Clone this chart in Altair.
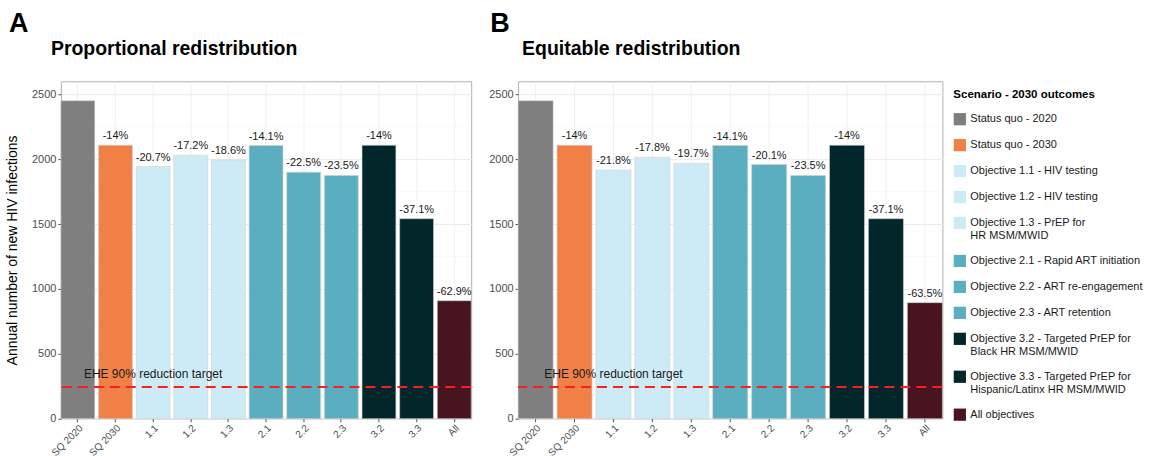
import altair as alt
import pandas as pd

codes = ["SQ 2020", "SQ 2030", "1.1", "1.2", "1.3", "2.1", "2.2", "2.3", "3.2", "3.3", "All"]
scenarios = [
    "Status quo - 2020",
    "Status quo - 2030",
    "Objective 1.1 - HIV testing",
    "Objective 1.2 - HIV testing",
    "Objective 1.3 - PrEP for\n HR MSM/MWID",
    "Objective 2.1 - Rapid ART initiation",
    "Objective 2.2 - ART re-engagement",
    "Objective 2.3 - ART retention",
    "Objective 3.2 - Targeted PrEP for\n Black HR MSM/MWID",
    "Objective 3.3 - Targeted PrEP for\n Hispanic/Latinx HR MSM/MWID",
    "All objectives",
]
colors = ["#7f7f7f", "#f08046", "#cdebf7", "#cdebf7", "#cdebf7", "#5aaebf",
          "#5aaebf", "#5aaebf", "#03262a", "#03262a", "#48141f"]

prop_values = [2450, 2107, 1943, 2029, 1994, 2105, 1899, 1874, 2107, 1541, 909]
prop_labels = ["", "-14%", "-20.7%", "-17.2%", "-18.6%", "-14.1%", "-22.5%",
               "-23.5%", "-14%", "-37.1%", "-62.9%"]
equit_values = [2450, 2107, 1916, 2014, 1967, 2105, 1958, 1874, 2107, 1541, 894]
equit_labels = ["", "-14%", "-21.8%", "-17.8%", "-19.7%", "-14.1%", "-20.1%",
                "-23.5%", "-14%", "-37.1%", "-63.5%"]
target = 245
target_text = "EHE 90% reduction target"
major_ticks = [0, 500, 1000, 1500, 2000, 2500]
minor_grid = [250, 750, 1250, 1750, 2250]

FONT = "Liberation Sans"
HEIGHT = 338


def panel(values, labels, letter, title, show_ytitle, width, letter_dx, title_dx):
    df = pd.DataFrame({"code": codes, "scenario": scenarios, "value": values, "label": labels})
    xenc = alt.X(
        "code:N", sort=codes,
        scale=alt.Scale(paddingInner=0.1, paddingOuter=0),
        axis=alt.Axis(title=None, labelAngle=-45, labelAlign="right", labelBaseline="top",
                      labelFontSize=10, labelColor="#4d4d4d", tickColor="#4d4d4d",
                      tickSize=3, labelPadding=1, grid=True, gridColor="#f0f0f0",
                      bandPosition=0.5, domain=False),
    )
    yscale = alt.Scale(domain=[0, 2600], nice=False)
    yenc = alt.Y(
        "value:Q", scale=yscale,
        axis=alt.Axis(
            title="Annual number of new HIV infections" if show_ytitle else "",
            titleFontSize=14, titleFontWeight="normal", titleColor="black",
            titlePadding=12, values=major_ticks, format="d",
            labelFontSize=11, labelColor="#4d4d4d", tickColor="#4d4d4d", tickSize=3,
            labelPadding=2, gridColor="#ebebeb", domain=False,
        ),
    )
    minor = alt.Chart(pd.DataFrame({"g": minor_grid})).mark_rule(
        color="#f5f5f5", strokeWidth=0.6
    ).encode(y=alt.Y("g:Q", scale=yscale))
    bars = alt.Chart(df).mark_bar(stroke="#d0d0d0", strokeWidth=0.6).encode(
        x=xenc, y=yenc,
        color=alt.Color(
            "scenario:N",
            scale=alt.Scale(domain=scenarios, range=colors),
            legend=alt.Legend(
                title="Scenario - 2030 outcomes", titleFontSize=11.5, titleFontWeight="bold",
                titleColor="black", titlePadding=12, labelFontSize=11, labelColor="#1a1a1a",
                labelExpr="split(datum.label, '\\n')", symbolType="square", symbolSize=150,
                symbolStrokeWidth=0, rowPadding=13, offset=1, labelLimit=300,
                padding=8,
            ),
        ),
    )
    text = alt.Chart(df).mark_text(
        baseline="bottom", dy=-4, fontSize=11, color="#1a1a1a", font=FONT
    ).encode(x=alt.X("code:N", sort=codes), y=alt.Y("value:Q", scale=yscale), text="label:N")
    rule = alt.Chart(pd.DataFrame({"t": [target]})).mark_rule(
        color="#f52020", strokeDash=[10, 6], strokeWidth=2
    ).encode(y=alt.Y("t:Q", scale=yscale))
    ehe = alt.Chart(pd.DataFrame({"code": ["1.1"], "t": [target], "s": [target_text]})).mark_text(
        fontSize=12, dy=-13, color="#1a1a1a", font=FONT
    ).encode(x=alt.X("code:N", sort=codes), y=alt.Y("t:Q", scale=yscale), text="s:N")
    head = pd.DataFrame({"letter": [letter], "title": [title]})
    let = alt.Chart(head).mark_text(
        fontSize=27, fontWeight="bold", align="left", baseline="alphabetic", color="black", font=FONT
    ).encode(x=alt.value(letter_dx), y=alt.value(-49), text="letter:N")
    tit = alt.Chart(head).mark_text(
        fontSize=19.5, fontWeight="bold", align="left", baseline="alphabetic", color="black", font=FONT
    ).encode(x=alt.value(title_dx), y=alt.value(-26), text="title:N")
    return alt.layer(minor, bars, text, rule, ehe, let, tit).properties(width=width, height=HEIGHT)


a = panel(prop_values, prop_labels, "A", "Proportional redistribution", True, 411, -52, -10)
b = panel(equit_values, equit_labels, "B", "Equitable redistribution", False, 425, -28, 4)

chart = alt.hconcat(a, b, spacing=15).properties(
    padding={"left": 5, "top": 9, "right": 5, "bottom": 0}
).configure(font=FONT).configure_view(
    stroke="#b0b0b0", strokeWidth=1
).configure_axis(labelFont=FONT, titleFont=FONT).configure_legend(
    labelFont=FONT, titleFont=FONT
)

chart.save("out.html", embed_options={"renderer": "svg", "actions": False})
